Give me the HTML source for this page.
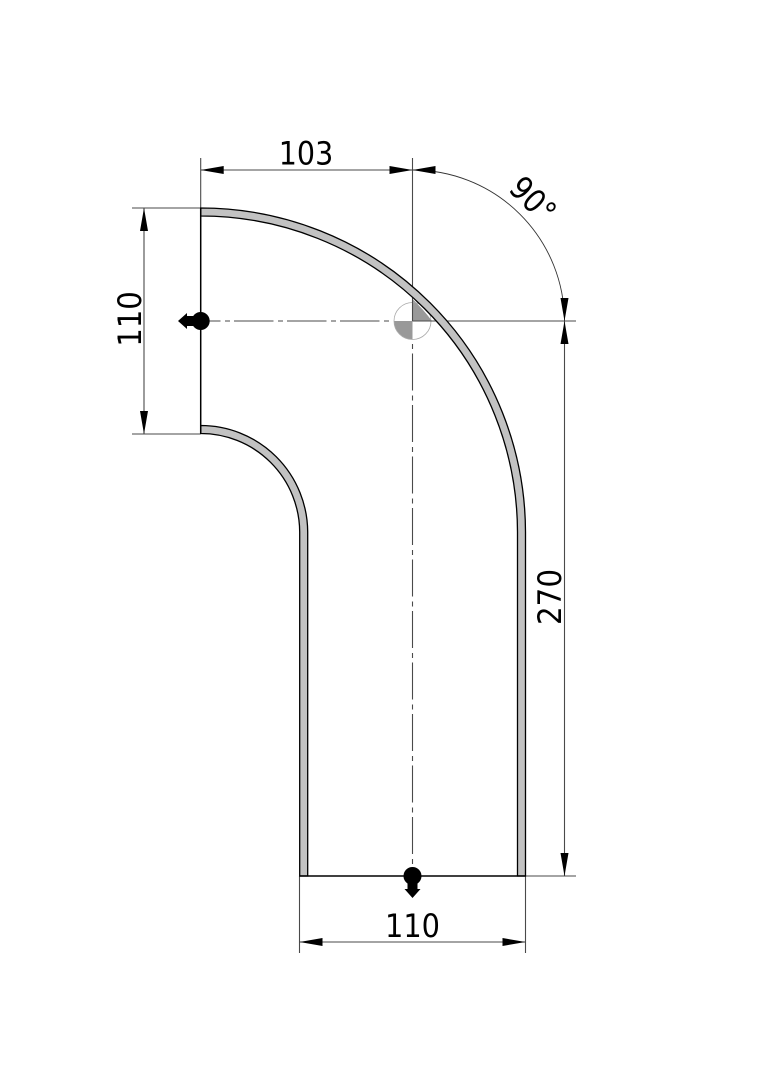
<!DOCTYPE html>
<html><head><meta charset="utf-8"><style>html,body{margin:0;padding:0;background:#fff}svg{display:block}text{font-family:"DejaVu Sans",sans-serif;font-size:32px;fill:#000;text-anchor:middle}</style></head><body>
<svg width="764" height="1080" viewBox="0 0 764 1080" xmlns="http://www.w3.org/2000/svg">
<rect width="764" height="1080" fill="#fff"/>
<path d="M412.500 321V299A170 170 0 0 1 432 321Z" fill="#999"/>
<path d="M394 321H412.500V339.500A18.500 18.500 0 0 1 394 321Z" fill="#999"/>
<circle cx="412.500" cy="321" r="18.500" fill="none" stroke="#aaa" stroke-width="0.8"/>
<g fill="none" stroke="#4a4a4a" stroke-width="1.100">
<path d="M200.700 158V208M412.500 158V321M132 208H200.700M132 434H200.700M412.500 321H576M526 876H576M299.500 876V953M525.500 876V953"/>
<path d="M200.700 170H412.500M144 208V434M564.500 321V876M299.500 942H525.500"/>
<path d="M412.500 170A151.500 151.500 0 0 1 564.500 321" stroke="#333" stroke-width="0.900"/>
<path d="M209 321H390" stroke-dasharray="39.500 4.500 5 4" stroke-dashoffset="28"/>
<path d="M412.500 344V870" stroke-dasharray="5 4.500 37 5"/>
</g>
<g fill="#c2c2c2" stroke="#000" stroke-width="1.300">
<path d="M200.700 208A324.800 324.800 0 0 1 525.500 532V876H517.500V532A316.800 316.800 0 0 0 200.700 216Z"/>
<path d="M200.700 425.500A107 107 0 0 1 307.700 532V876H299.700V532A99 99 0 0 0 200.700 433.500Z"/>
</g>
<path d="M200.700 208V434M299.700 876H525.500" fill="none" stroke="#000" stroke-width="1.500"/>
<g fill="#000">
<path d="M200.700 170l23-4v8zM412.500 170l-23-4v8zM412.500 170l23-4v8zM299.500 942l23-4v8zM525.500 942l-23-4v8z"/>
<path d="M144 208l-4 23h8zM144 434l-4-23h8zM564.500 321l-4-23h8zM564.500 321l-4 23h8zM564.500 876l-4-23h8z"/>
<circle cx="200.700" cy="321" r="9"/><path d="M178 321l9-8v3h8v10h-8v3z"/>
<circle cx="412.500" cy="876" r="9"/><path d="M412.500 898l-8-9h3v-8h10v8h3z"/>
</g>
<text x="306" y="164.500" textLength="54.500" lengthAdjust="spacingAndGlyphs">103</text>
<text x="412.500" y="937" textLength="55" lengthAdjust="spacingAndGlyphs">110</text>
<text transform="translate(141 319) rotate(-90)" textLength="55.500" lengthAdjust="spacingAndGlyphs">110</text>
<text transform="translate(561 597) rotate(-90)" textLength="56" lengthAdjust="spacingAndGlyphs">270</text>
<text transform="translate(525 207.500) rotate(45)" textLength="50" lengthAdjust="spacingAndGlyphs">90°</text>
</svg></body></html>
